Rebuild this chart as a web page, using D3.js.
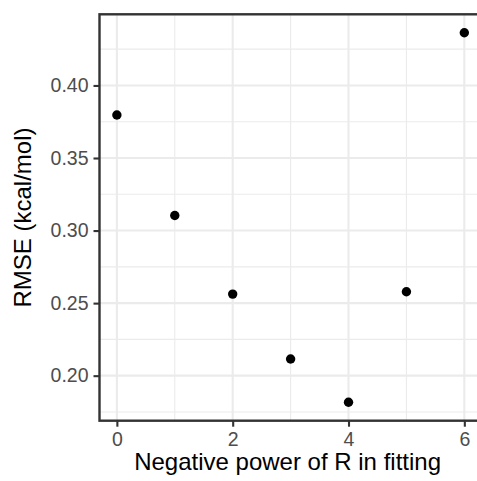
<!DOCTYPE html>
<html>
<head>
<meta charset="utf-8" />
<title>RMSE vs negative power of R</title>
<script src="https://cdn.jsdelivr.net/npm/d3@7"></script>
<style>
body { margin: 0; background: #fff; }
svg { display: block; font-family: "Liberation Sans", Arial, sans-serif; }
</style>
</head>
<body>
<div id="chart"></div>
<script>
// data
const power = [0, 1, 2, 3, 4, 5, 6];
const rmse = [0.3796, 0.3104, 0.2562, 0.2115, 0.1817, 0.2578, 0.4363];
const xTicks = [0, 2, 4, 6];
const xMinor = [1, 3, 5];
const yTicks = [0.20, 0.25, 0.30, 0.35, 0.40];
const yMinor = [0.175, 0.225, 0.275, 0.325, 0.375, 0.425];

const width = 477, height = 481;
const panel = {left: 99.5, top: 14.3, right: 481.7, bottom: 420.7};

const svg = d3.select("#chart").append("svg")
  .attr("width", width)
  .attr("height", height);

// ggplot-style 5% expansion
const xExt = d3.extent(power), yExt = d3.extent(rmse);
const xPad = (xExt[1] - xExt[0]) * 0.05, yPad = (yExt[1] - yExt[0]) * 0.05;
const x = d3.scaleLinear().domain([xExt[0] - xPad, xExt[1] + xPad]).range([panel.left, panel.right]);
const y = d3.scaleLinear().domain([yExt[0] - yPad, yExt[1] + yPad]).range([panel.bottom, panel.top]);

const grid = svg.append("g").attr("stroke", "#EBEBEB");
grid.selectAll(".ym").data(yMinor).enter().append("line")
  .attr("x1", panel.left).attr("x2", panel.right)
  .attr("y1", d => y(d)).attr("y2", d => y(d))
  .attr("stroke-width", 1.1);
grid.selectAll(".xm").data(xMinor).enter().append("line")
  .attr("y1", panel.top).attr("y2", panel.bottom)
  .attr("x1", d => x(d)).attr("x2", d => x(d))
  .attr("stroke-width", 1.1);
grid.selectAll(".yM").data(yTicks).enter().append("line")
  .attr("x1", panel.left).attr("x2", panel.right)
  .attr("y1", d => y(d)).attr("y2", d => y(d))
  .attr("stroke-width", 2.1);
grid.selectAll(".xM").data(xTicks).enter().append("line")
  .attr("y1", panel.top).attr("y2", panel.bottom)
  .attr("x1", d => x(d)).attr("x2", d => x(d))
  .attr("stroke-width", 2.1);

svg.append("g").selectAll("circle")
  .data(power)
  .enter().append("circle")
    .attr("cx", (d, i) => x(d))
    .attr("cy", (d, i) => y(rmse[i]))
    .attr("r", 4.7)
    .attr("fill", "#000");

svg.append("rect")
  .attr("x", panel.left).attr("y", panel.top)
  .attr("width", panel.right - panel.left)
  .attr("height", panel.bottom - panel.top)
  .attr("fill", "none")
  .attr("stroke", "#333333")
  .attr("stroke-width", 2.4);

// axes
const xAxis = svg.append("g")
  .attr("transform", "translate(0," + panel.bottom + ")")
  .call(d3.axisBottom(x).tickValues(xTicks).tickFormat(d3.format("d")).tickSize(6).tickPadding(5));
const yAxis = svg.append("g")
  .attr("transform", "translate(" + panel.left + ",0)")
  .call(d3.axisLeft(y).tickValues(yTicks).tickFormat(d3.format(".2f")).tickSize(6).tickPadding(5));

[xAxis, yAxis].forEach(function(a) {
  a.select(".domain").remove();
  a.selectAll(".tick line").attr("stroke", "#333333").attr("stroke-width", 2.1);
  a.selectAll(".tick text")
    .attr("fill", "#4D4D4D")
    .style("font-size", "19.5px")
    .style("font-family", "Liberation Sans, Arial, sans-serif");
});

svg.append("text")
  .attr("x", (panel.left + panel.right) / 2 - 3)
  .attr("y", 470)
  .attr("text-anchor", "middle")
  .style("font-size", "24px")
  .text("Negative power of R in fitting");

svg.append("text")
  .attr("transform", "translate(31," + ((panel.top + panel.bottom) / 2) + ") rotate(-90)")
  .attr("text-anchor", "middle")
  .style("font-size", "24px")
  .text("RMSE (kcal/mol)");
</script>
</body>
</html>
